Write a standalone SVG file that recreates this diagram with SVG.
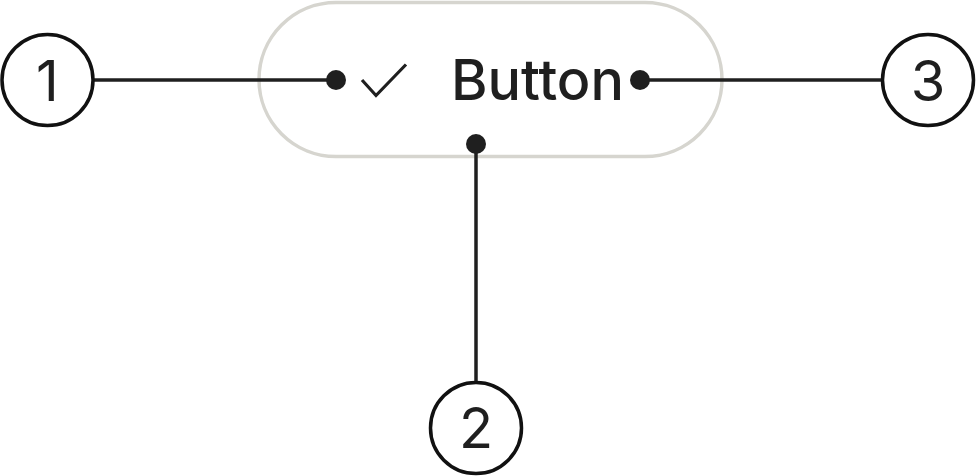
<svg xmlns="http://www.w3.org/2000/svg" width="976" height="476" viewBox="0 0 976 476">
<style>
.lbl{fill:none;stroke:#111;stroke-width:3.5}
.num{font-family:Inter,"Liberation Sans",sans-serif;font-size:56px;fill:#1f1f1f;text-anchor:middle}
.ln{stroke:#1f1f1f;stroke-width:3.5;fill:none}
.dot{fill:#1f1f1f}
</style>
<rect width="976" height="476" fill="#fff"/>
<g id="button">
<rect x="259" y="2.5" width="463" height="154" rx="77" fill="#fff" stroke="#d6d5cf" stroke-width="3.5"/>
<path d="M362 80 L376 95.5 L406 64.5" fill="none" stroke="#1f1f1f" stroke-width="3.2"/>
<text x="451" y="100" font-family="Inter,'Liberation Sans',sans-serif" font-size="56" font-weight="500" fill="#1f1f1f" textLength="173" lengthAdjust="spacingAndGlyphs">Button</text>
</g>
<g id="connectors">
<line class="ln" x1="94" y1="80" x2="336" y2="80"/>
<circle class="dot" cx="336" cy="80" r="10"/>
<line class="ln" x1="640" y1="80" x2="882" y2="80"/>
<circle class="dot" cx="640" cy="80" r="10"/>
<line class="ln" x1="476" y1="144" x2="476" y2="383"/>
<circle class="dot" cx="476" cy="144" r="10"/>
</g>
<g id="n1">
<circle class="lbl" cx="47.5" cy="80" r="45.5"/>
<text class="num" x="47.5" y="100.5">1</text>
</g>
<g id="n2">
<circle class="lbl" cx="476" cy="428" r="45.5"/>
<text class="num" x="476" y="447.5">2</text>
</g>
<g id="n3">
<circle class="lbl" cx="928" cy="80" r="45.5"/>
<text class="num" x="928" y="100.5">3</text>
</g>
</svg>
